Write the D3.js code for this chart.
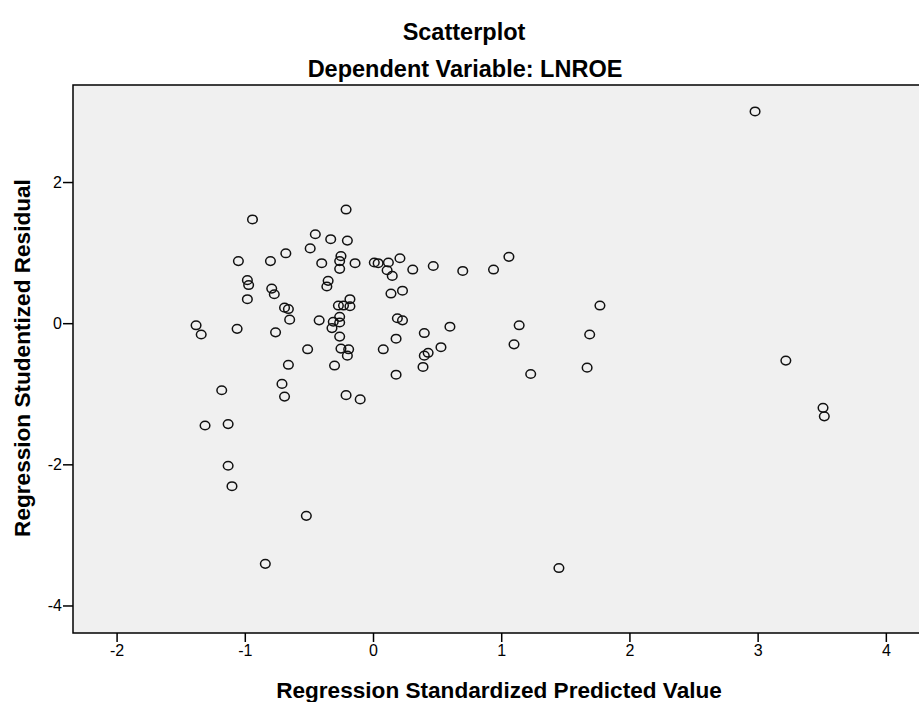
<html>
  <head>
    <meta charset="utf-8">
    <title>Scatterplot</title>
    <script type="text/javascript" src="https://cdn.jsdelivr.net/npm/d3@7"></script>
    <style type="text/css">
        body { margin: 0; background: white; }
        text { font-family: "Liberation Sans", Arial, sans-serif; fill: #000; }
        .title { font-weight: bold; font-size: 23.5px; }
        .axis-title { font-weight: bold; font-size: 22.6px; }
    </style>
  </head>
  <body>
    <div id="chart-container"></div>
    <script type="text/javascript">
      // standardized predicted value (x) and studentized residual (y)
      var predicted = [2.98, -0.21, -0.94, -0.45, -0.33, -0.20, -0.49, -0.68, -1.05, -0.80,
                       -0.40, -0.25, -0.26, -0.26, -0.14, 0.01, 0.04, 0.12, 0.21, 0.11,
                       0.15, 0.31, 0.47, 0.70, 0.94, 1.06, 0.14, 0.23, -0.35, -0.36,
                       -0.98, -0.97, -0.79, -0.77, -0.98, -0.69, -0.66, -0.65, -0.42, -0.18,
                       -0.27, -0.23, -0.18, -0.26, -0.31, -0.26, -0.32, -0.26, -1.38, -1.34,
                       -1.06, -0.76, -0.51, -0.25, -0.19, -0.20, -0.30, -0.66, -0.71, -0.69,
                       -1.18, -0.21, -0.10, 0.19, 0.23, 0.18, 0.40, 0.08, 0.40, 0.43,
                       0.39, 0.18, 1.77, 0.60, 1.14, 1.69, 0.53, 1.10, 1.23, 1.67,
                       -1.13, -1.31, -1.13, -1.10, -0.52, -0.84, 1.45, 3.22, 3.51, 3.52];
      var residual = [3.00, 1.61, 1.47, 1.26, 1.19, 1.17, 1.06, 0.99, 0.88, 0.88,
                      0.85, 0.95, 0.88, 0.77, 0.85, 0.86, 0.85, 0.86, 0.92, 0.75,
                      0.67, 0.76, 0.81, 0.74, 0.76, 0.94, 0.42, 0.46, 0.60, 0.52,
                      0.61, 0.54, 0.49, 0.41, 0.34, 0.22, 0.20, 0.05, 0.04, 0.34,
                      0.25, 0.25, 0.24, 0.09, 0.02, 0.01, -0.07, -0.19, -0.03, -0.16,
                      -0.08, -0.13, -0.37, -0.36, -0.37, -0.46, -0.60, -0.59, -0.86, -1.04,
                      -0.95, -1.02, -1.08, 0.07, 0.04, -0.22, -0.14, -0.37, -0.46, -0.42,
                      -0.62, -0.73, 0.25, -0.05, -0.03, -0.16, -0.34, -0.30, -0.72, -0.63,
                      -1.43, -1.45, -2.02, -2.31, -2.73, -3.41, -3.47, -0.53, -1.20, -1.32];
      var xTicks = [-2, -1, 0, 1, 2, 3, 4];
      var yTicks = [-4, -2, 0, 2];

      var data = predicted.map(function(p, i) { return {x: p, y: residual[i]}; });

      var w = 919, h = 702;
      // plot box (right edge runs past the picture, as in the original)
      var boxL = 73, boxT = 85, boxR = 932, boxB = 633;

      var svg = d3.select("#chart-container").append("svg")
          .attr("width", w)
          .attr("height", h);

      var x = d3.scaleLinear().domain([-2.34, 4.36]).range([boxL, boxR]);
      var y = d3.scaleLinear().domain([-4.39, 3.375]).range([boxB, boxT]);

      var fmt = function(d) { return String(d); }; // plain hyphen minus

      // plot background and frame
      svg.append("rect")
          .attr("x", boxL).attr("y", boxT)
          .attr("width", boxR - boxL).attr("height", boxB - boxT)
          .attr("fill", "#f0f0f0")
          .attr("stroke", "#000")
          .attr("stroke-width", 1.5);

      var xAxis = svg.append("g")
          .attr("transform", "translate(0," + boxB + ")")
          .call(d3.axisBottom(x).tickValues(xTicks).tickSize(9).tickPadding(3).tickFormat(fmt));
      xAxis.select(".domain").remove();

      var yAxis = svg.append("g")
          .attr("transform", "translate(" + boxL + ",0)")
          .call(d3.axisLeft(y).tickValues(yTicks).tickSize(10).tickPadding(1).tickFormat(fmt));
      yAxis.select(".domain").remove();

      svg.selectAll(".tick line").attr("stroke", "#000").attr("stroke-width", 1.5);
      svg.selectAll(".tick text")
          .attr("fill", "#000")
          .style("font-family", "'Liberation Sans', Arial, sans-serif")
          .style("font-size", "16px");

      // points
      svg.append("g").selectAll("ellipse")
          .data(data)
          .enter().append("ellipse")
          .attr("cx", function(d) { return x(d.x); })
          .attr("cy", function(d) { return y(d.y); })
          .attr("rx", 4.8)
          .attr("ry", 4.3)
          .attr("fill", "none")
          .attr("stroke", "#111")
          .attr("stroke-width", 1.5);

      // titles
      svg.append("text").attr("class", "title")
          .attr("x", 464).attr("y", 40)
          .attr("text-anchor", "middle")
          .text("Scatterplot");
      svg.append("text").attr("class", "title")
          .attr("x", 465).attr("y", 77)
          .attr("text-anchor", "middle")
          .text("Dependent Variable: LNROE");
      svg.append("text").attr("class", "axis-title")
          .attr("x", 499).attr("y", 698)
          .attr("text-anchor", "middle")
          .text("Regression Standardized Predicted Value");
      svg.append("text").attr("class", "axis-title")
          .attr("transform", "translate(30,358) rotate(-90)")
          .attr("text-anchor", "middle")
          .text("Regression Studentized Residual");
    </script>
  </body>
</html>
